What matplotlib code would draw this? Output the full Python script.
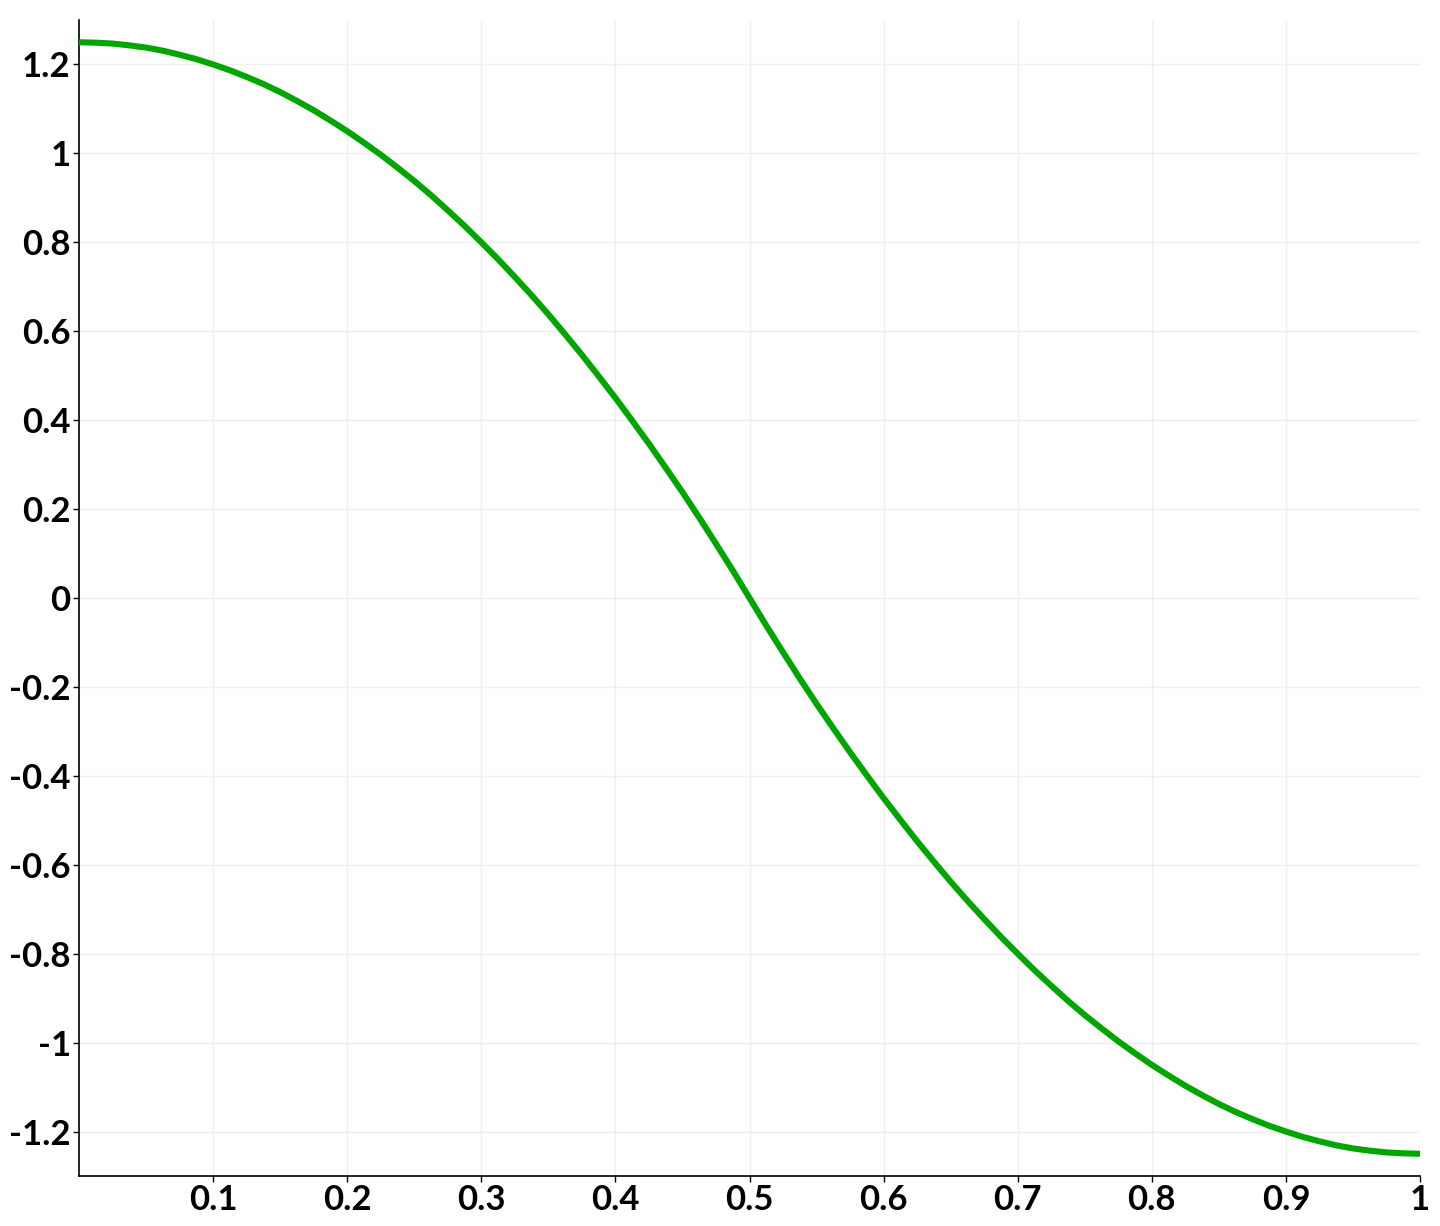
import matplotlib
matplotlib.use("Agg")
import matplotlib.pyplot as plt

# Values
x_vals = [0.0, 0.0125, 0.025, 0.0375, 0.05, 0.0625, 0.075, 0.0875, 0.1, 0.1125,
          0.125, 0.1375, 0.15, 0.1625, 0.175, 0.1875, 0.2, 0.2125, 0.225, 0.2375,
          0.25, 0.2625, 0.275, 0.2875, 0.3, 0.3125, 0.325, 0.3375, 0.35, 0.3625,
          0.375, 0.3875, 0.4, 0.4125, 0.425, 0.4375, 0.45, 0.4625, 0.475, 0.4875,
          0.5,
          0.5125, 0.525, 0.5375, 0.55, 0.5625, 0.575, 0.5875, 0.6, 0.6125,
          0.625, 0.6375, 0.65, 0.6625, 0.675, 0.6875, 0.7, 0.7125, 0.725, 0.7375,
          0.75, 0.7625, 0.775, 0.7875, 0.8, 0.8125, 0.825, 0.8375, 0.85, 0.8625,
          0.875, 0.8875, 0.9, 0.9125, 0.925, 0.9375, 0.95, 0.9625, 0.975, 0.9875,
          1.0]
y_vals = [1.25, 1.249, 1.247, 1.243, 1.238, 1.231, 1.222, 1.212, 1.2, 1.187,
          1.172, 1.156, 1.138, 1.118, 1.097, 1.074, 1.05, 1.024, 0.997, 0.968,
          0.938, 0.906, 0.872, 0.837, 0.8, 0.762, 0.722, 0.681, 0.638, 0.593,
          0.547, 0.499, 0.45, 0.399, 0.347, 0.293, 0.238, 0.181, 0.122, 0.062,
          0.0,
          -0.062, -0.122, -0.181, -0.238, -0.293, -0.347, -0.399, -0.45, -0.499,
          -0.547, -0.593, -0.638, -0.681, -0.722, -0.762, -0.8, -0.837, -0.872, -0.906,
          -0.938, -0.968, -0.997, -1.024, -1.05, -1.074, -1.097, -1.118, -1.138, -1.156,
          -1.172, -1.187, -1.2, -1.212, -1.222, -1.231, -1.238, -1.243, -1.247, -1.249,
          -1.25]

x_ticks = [0.1, 0.2, 0.3, 0.4, 0.5, 0.6, 0.7, 0.8, 0.9, 1.0]
x_tick_labels = ["0.1", "0.2", "0.3", "0.4", "0.5", "0.6", "0.7", "0.8", "0.9", "1"]
y_ticks = [-1.2, -1.0, -0.8, -0.6, -0.4, -0.2, 0.0, 0.2, 0.4, 0.6, 0.8, 1.0, 1.2]
y_tick_labels = ["-1.2", "-1", "-0.8", "-0.6", "-0.4", "-0.2", "0", "0.2", "0.4",
                 "0.6", "0.8", "1", "1.2"]

plt.rcParams['font.family'] = ['Lato', 'DejaVu Sans']

fig = plt.figure(figsize=(14.4, 12.26), dpi=100)
ax = fig.add_axes([79/1440, 50/1226, (1420-79)/1440, (1176-20)/1226])

ax.plot(x_vals, y_vals, color="#00a600", linewidth=4.4, solid_capstyle="butt",
        solid_joinstyle="round", zorder=3)

ax.set_xlim(0, 1)
ax.set_ylim(-1.3, 1.3)
ax.set_xticks(x_ticks)
ax.set_xticklabels(x_tick_labels)
ax.set_yticks(y_ticks)
ax.set_yticklabels(y_tick_labels)

ax.grid(True, color="#efefef", linewidth=1.0, zorder=0)
for side in ["top", "right"]:
    ax.spines[side].set_visible(False)
for side in ["left", "bottom"]:
    ax.spines[side].set_linewidth(1.2)
    ax.spines[side].set_color("black")

ax.tick_params(axis="both", direction="out", length=4, width=1, color="black",
               labelsize=25, pad=2)
for lbl in ax.get_xticklabels() + ax.get_yticklabels():
    lbl.set_fontweight("bold")

fig.savefig("out.png", dpi=100, facecolor="white")
